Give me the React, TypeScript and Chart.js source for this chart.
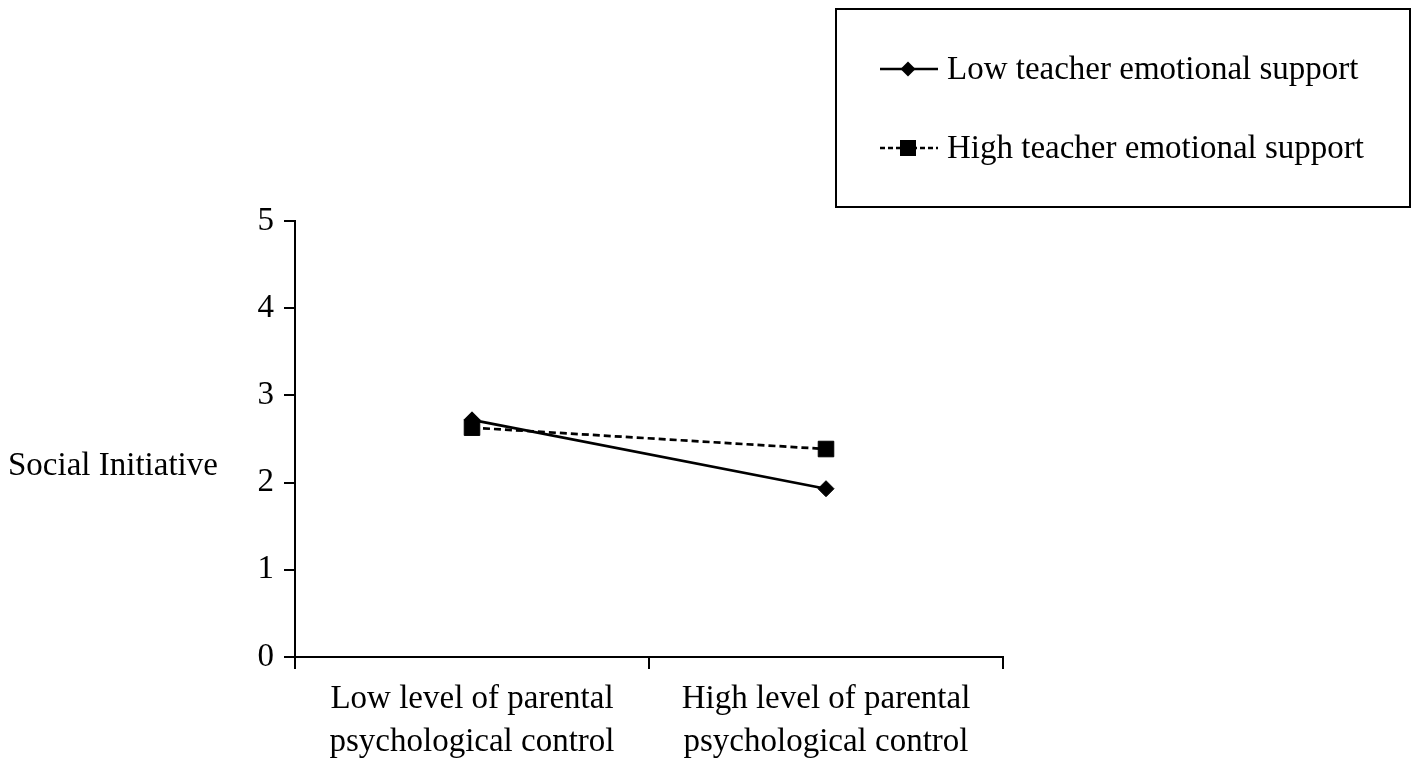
import React, { useEffect, useRef } from "react";
import { Chart, registerables } from "chart.js";

Chart.register(...registerables);

const categories: string[][] = [
  ["Low level of parental", "psychological control"],
  ["High level of parental", "psychological control"],
];
const lowSupport: number[] = [2.72, 1.93];
const highSupport: number[] = [2.63, 2.385];
const seriesLabels: string[] = ["Low teacher emotional support", "High teacher emotional support"];
const yTitle = "Social Initiative";
const yMin = 0;
const yMax = 5;

const FONT = "'Liberation Serif', 'Times New Roman', serif";

const overlayPlugin = {
  id: "overlay",
  afterDraw(chart: any) {
    const ctx = chart.ctx as CanvasRenderingContext2D;
    ctx.save();
    ctx.fillStyle = "#000";
    ctx.strokeStyle = "#000";
    // y title
    ctx.font = `33px ${FONT}`;
    ctx.textAlign = "left";
    ctx.textBaseline = "middle";
    ctx.fillText(yTitle, 8, 466);

    // legend box
    ctx.lineWidth = 2;
    ctx.setLineDash([]);
    ctx.strokeRect(836, 9, 574, 198);

    const rows = [69, 148];
    chart.data.datasets.forEach((ds: any, i: number) => {
      const y = rows[i];
      ctx.lineWidth = 2.5;
      ctx.setLineDash(ds.borderDash ? [5, 3] : []);
      ctx.beginPath();
      ctx.moveTo(880, y);
      ctx.lineTo(938, y);
      ctx.stroke();
      ctx.setLineDash([]);
      ctx.beginPath();
      if (ds.pointStyle === "rectRot") {
        const r = 7.5;
        ctx.moveTo(908, y - r);
        ctx.lineTo(908 + r, y);
        ctx.lineTo(908, y + r);
        ctx.lineTo(908 - r, y);
        ctx.closePath();
      } else {
        ctx.rect(908 - 8, y - 8, 16, 16);
      }
      ctx.fill();
      ctx.font = `33px ${FONT}`;
      ctx.textAlign = "left";
      ctx.textBaseline = "middle";
      ctx.fillText(ds.label, 947, y + 1);
    });
    ctx.restore();
  },
};

export default function App() {
  const ref = useRef<HTMLCanvasElement>(null);
  useEffect(() => {
    if (!ref.current) return;
    const chart = new Chart(ref.current, {
      type: "line",
      data: {
        labels: categories,
        datasets: [
          {
            label: seriesLabels[0],
            data: lowSupport,
            borderColor: "#000",
            backgroundColor: "#000",
            borderWidth: 2.7,
            pointStyle: "rectRot",
            pointRadius: 8,
            pointBorderWidth: 1,
            pointBackgroundColor: "#000",
            pointBorderColor: "#000",
          },
          {
            label: seriesLabels[1],
            data: highSupport,
            borderColor: "#000",
            backgroundColor: "#000",
            borderWidth: 2.7,
            borderDash: [7, 4],
            pointStyle: "rect",
            pointRadius: 11,
            pointBorderWidth: 1,
            pointBackgroundColor: "#000",
            pointBorderColor: "#000",
          },
        ],
      },
      options: {
        responsive: false,
        animation: false,
        layout: { padding: { left: 0, top: 221, right: 415, bottom: 0 } },
        plugins: {
          legend: { display: false },
          tooltip: { enabled: false },
          title: { display: false },
        },
        scales: {
          x: {
            type: "category",
            offset: true,
            grid: {
              offset: true,
              drawOnChartArea: false,
              drawTicks: true,
              tickLength: 12,
              color: "#000",
              lineWidth: 2,
            },
            border: { display: true, color: "#000", width: 2 },
            ticks: {
              color: "#000",
              font: { family: FONT, size: 33, lineHeight: 1.3 },
              padding: 9,
              maxRotation: 0,
              autoSkip: false,
            },
            afterFit(scale: any) {
              scale.height = 108;
            },
          },
          y: {
            min: yMin,
            max: yMax,
            grid: {
              drawOnChartArea: false,
              drawTicks: true,
              tickLength: 11,
              color: "#000",
              lineWidth: 2,
            },
            border: { display: true, color: "#000", width: 2 },
            ticks: {
              stepSize: 1,
              color: "#000",
              font: { family: FONT, size: 33 },
              padding: 10,
            },
            afterFit(scale: any) {
              scale.width = 295;
            },
          },
        },
      },
      plugins: [overlayPlugin],
    } as any);
    return () => chart.destroy();
  }, []);
  return (
    <div style={{ position: "fixed", left: 0, top: 0, width: 1418, height: 765, background: "#fff" }}>
      <canvas ref={ref} width={1418} height={765} />
    </div>
  );
}
